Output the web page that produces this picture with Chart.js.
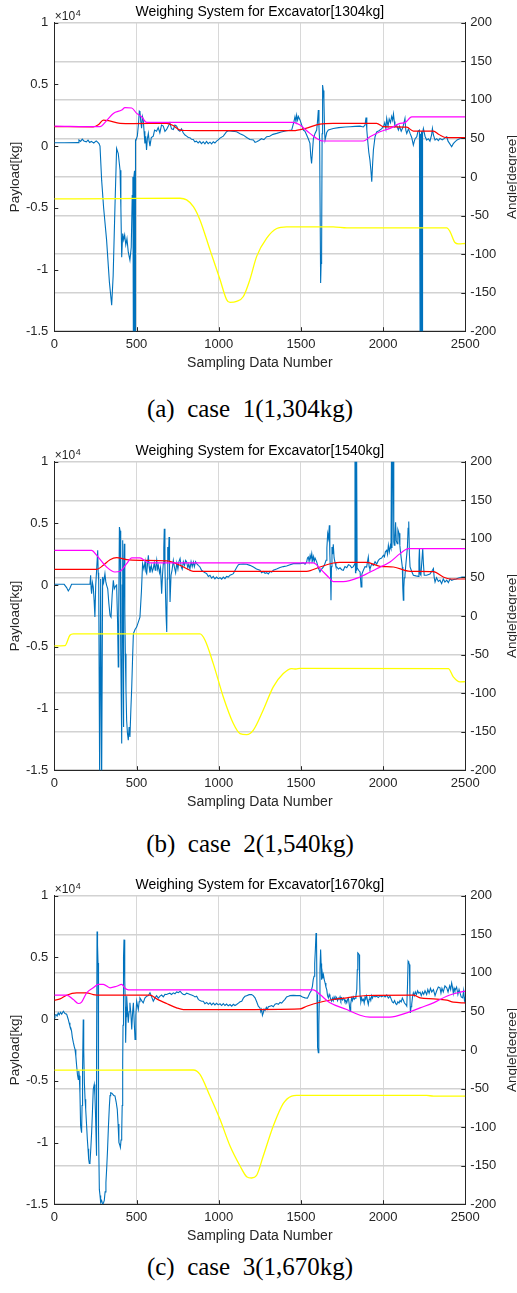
<!DOCTYPE html>
<html><head><meta charset="utf-8">
<script src="https://cdn.jsdelivr.net/npm/chart.js@4"></script>
<style>
html,body{margin:0;padding:0;background:#fff;}
body{width:517px;height:1293px;position:relative;overflow:hidden;}
canvas{position:absolute;left:0;}
.cap{position:absolute;left:0;width:500px;text-align:center;font-family:"Liberation Serif","Times New Roman",serif;font-size:25px;white-space:pre;color:#000;line-height:25px;}
</style></head><body>
<canvas id="c0" width="517" height="380" style="top:0px"></canvas>
<div class="cap" id="cap0" style="top:396px"></div>
<canvas id="c1" width="517" height="380" style="top:438.6px"></canvas>
<div class="cap" id="cap1" style="top:831px"></div>
<canvas id="c2" width="517" height="380" style="top:873.3px"></canvas>
<div class="cap" id="cap2" style="top:1254px"></div>
<script>
const xTicks=[0,500,1000,1500,2000,2500];
const payloadTicks=[-15000,-10000,-5000,0,5000,10000];
const angleTicks=[-200,-150,-100,-50,0,50,100,150,200];
const titles=["Weighing System for Excavator[1304kg]","Weighing System for Excavator[1540kg]","Weighing System for Excavator[1670kg]"];
const captions=["(a)  case  1(1,304kg)","(b)  case  2(1,540kg)","(c)  case  3(1,670kg)"];
const xTitle="Sampling Data Number";
const yLeftTitle="Payload[kg]";
const yRightTitle="Angle[degree]";

// ---- case 1 ----
const c1BlueX=[0,60,146,150,160,170,180,195,205,215,225,240,255,265,272,278,288,300,318,335,349,358,369,379,389,400,405,410,416,422,428,435,442,450,460,468,474,478,481,484,488,491,494,497,505,512,517,521,526,531,536,541,546,551,556,561,566,572,577,582,590,602,610,622,632,642,652,663,673,683,693,703,713,724,734,744,754,764,774,784,795,805,815,825,835,845,855,865,875,885,895,906,916,926,936,947,957,967,977,987,997,1008,1028,1048,1058,1080,1109,1130,1150,1170,1190,1211,1221,1231,1245,1260,1275,1292,1310,1330,1353,1380,1413,1444,1458,1464,1470,1474,1480,1485,1495,1505,1515,1525,1535,1545,1555,1560,1565,1570,1576,1586,1596,1601,1606,1610,1614,1620,1623,1626,1629,1632,1636,1640,1644,1647,1657,1667,1697,1730,1770,1799,1830,1860,1880,1890,1896,1901,1906,1913,1920,1926,1931,1936,1941,1951,1961,1975,1990,2002,2010,2017,2022,2030,2037,2045,2052,2058,2063,2068,2072,2082,2093,2100,2110,2120,2133,2138,2144,2154,2164,2174,2184,2190,2195,2205,2212,2221,2225,2228,2231,2234,2237,2240,2245,2255,2265,2275,2285,2295,2300,2306,2316,2326,2336,2346,2360,2375,2387,2395,2405,2417,2427,2437,2450,2468,2485,2500];
const c1BlueY=[270,270,280,500,380,560,420,350,480,300,380,250,420,300,200,0,-2760,-5000,-7600,-11000,-12900,-10500,-4900,-190,-600,-1950,-5000,-9000,-7080,-7600,-7200,-8000,-7500,-8600,-9240,-8200,-4000,-2500,-16000,-2500,-2000,-16000,500,490,800,1800,2840,2780,2000,1450,2400,2160,1200,220,800,-320,600,1030,400,0,700,810,1300,1210,1500,1080,1700,1620,1200,1350,1600,1890,1400,1350,1700,1620,1300,1210,1400,1080,900,810,700,680,550,540,350,400,250,380,200,350,180,380,200,320,180,350,250,400,500,650,810,1160,1240,1200,1160,1000,890,700,540,490,300,350,450,600,520,760,800,950,1030,1150,1240,1300,2000,2380,2000,2500,2100,2400,2100,1700,1300,1200,900,600,220,-800,-1400,-500,600,1030,1300,2000,2920,1500,420,-11100,-9500,-8700,1000,4950,4500,3730,1200,490,1100,1300,1430,1500,1550,1570,1600,1620,1550,1700,2320,1300,490,-500,-1140,-2000,-2890,-1500,-320,760,1160,1250,1400,1570,1900,1400,2240,1600,2200,1900,2400,2100,2600,2000,1570,1700,1300,1600,1200,1500,2240,1300,1030,1400,1030,700,80,400,600,760,1200,1300,-16000,1000,-16000,1200,-16000,1000,1430,800,490,600,400,900,1430,900,490,600,450,620,500,650,760,400,200,-50,200,350,500,620,640,680];
const c1RedX=[0,237,270,298,330,400,481,684,720,765,800,886,1454,1530,1616,1697,1961,2002,2144,2184,2306,2340,2387,2500];
const c1RedY=[65.2,65,68,73.8,73,69.5,69.2,69.5,67,60.8,60.2,60,60,63,68.6,69.5,69.5,65.2,64.5,59.5,59.5,55,50.9,50.9];
const c1MagX=[0,278,318,359,410,430,471,501,531,562,1454,1495,1555,1636,1880,1920,1981,2042,2103,2133,2174,2500];
const c1MagY=[66,65.2,73,82.4,86.7,89.8,89.4,82.4,78,70.8,70.8,67.4,56.5,46.6,46.6,52,58.7,63,69.5,70.4,78,78];
const c1YelX=[0,400,765,805,846,886,947,1008,1048,1069,1109,1150,1190,1231,1292,1353,1413,1697,1780,2387,2407,2437,2457,2500];
const c1YelY=[-28.5,-28,-27.6,-29.7,-38.4,-55.7,-94.5,-133,-159,-162.7,-161.4,-155,-133,-103,-79.4,-66.9,-64.7,-64.7,-66,-66,-70.8,-85,-86.7,-86.3];

// ---- case 2 ----
const c2BlueX=[0,60,75,85,95,105,150,217,221,224,227,232,237,242,247,252,258,264,267,270,276,282,288,294,300,308,313,318,325,332,339,345,352,359,365,372,379,385,389,392,396,400,404,410,413,416,418,420,423,426,429,432,436,440,445,450,455,460,466,471,476,481,491,501,511,521,530,537,545,552,557,562,567,572,577,582,590,596,602,608,614,618,623,628,633,640,646,653,658,663,666,669,673,677,680,684,687,690,694,698,701,704,710,716,724,730,738,745,752,758,765,772,778,785,792,799,805,812,818,825,832,839,846,852,859,866,876,886,896,906,917,927,937,947,957,967,977,987,997,1008,1018,1028,1038,1048,1058,1069,1079,1089,1100,1110,1120,1130,1150,1170,1190,1211,1230,1251,1261,1272,1282,1292,1302,1312,1322,1332,1352,1373,1393,1413,1434,1454,1475,1495,1515,1525,1535,1540,1545,1550,1556,1561,1566,1571,1576,1581,1586,1596,1606,1616,1626,1637,1645,1653,1658,1663,1668,1673,1676,1680,1683,1686,1689,1693,1697,1702,1708,1713,1718,1728,1738,1748,1758,1768,1779,1789,1799,1809,1819,1827,1829,1832,1834,1837,1839,1842,1851,1860,1866,1871,1880,1890,1900,1905,1910,1915,1920,1930,1941,1951,1961,1971,1981,1991,2002,2008,2014,2022,2027,2032,2038,2044,2048,2051,2054,2058,2062,2065,2068,2072,2076,2080,2086,2090,2097,2102,2107,2112,2117,2120,2123,2126,2129,2133,2137,2142,2148,2152,2156,2160,2164,2174,2184,2200,2215,2218,2221,2225,2230,2235,2241,2245,2250,2265,2285,2300,2306,2311,2316,2325,2336,2346,2356,2366,2376,2387,2397,2407,2417,2430,2445,2458,2480,2500];
const c2BlueY=[65,65,-200,-475,-250,65,65,65,800,-300,-690,200,-150,-1200,-2590,0,1340,2820,1000,390,-16000,500,-16000,660,200,930,300,0,-300,-1500,-2450,-2590,-800,390,-300,-100,0,-3000,-6630,-2000,4710,4400,-5000,-12840,0,3630,-3000,-11490,0,3360,-2000,-5570,-8500,-10950,-12000,-12570,-11500,-12300,-10000,-8270,-6000,-3940,-3600,-3400,-3000,-2590,-500,1740,1300,1900,1100,930,1700,2420,1500,1000,1600,1100,1340,1800,1200,1500,2010,1300,1600,1000,1400,-690,800,1740,3000,4570,1500,-960,-2500,-3800,500,3090,2000,3900,1000,-1360,800,1200,2010,1500,1000,1800,1300,1900,2160,1500,1300,1900,1600,2000,1880,1400,1700,1300,1900,1500,1880,1500,1900,1740,1600,1470,1200,1100,1000,930,700,800,560,700,500,650,520,600,480,650,520,700,650,800,850,930,1200,1450,1650,1690,1700,1690,1600,1470,1300,1200,1000,1100,950,1010,900,1100,1050,1200,1300,1420,1500,1550,1650,1740,1750,1740,1800,1700,1880,2200,2280,1900,2400,2100,2550,2000,2300,1900,2200,1880,1400,1070,1300,1470,1700,2010,3000,4170,3800,4840,2500,1000,-1230,1500,3090,2500,3300,2200,1800,1500,1470,1300,1400,1250,1200,1500,1400,1650,1600,1400,1500,1700,11000,1000,11000,1200,11000,1400,1200,1070,-150,900,1200,1500,1470,1900,2280,1500,1300,1700,1600,1900,1700,2000,2140,2200,2420,2300,2700,2820,2500,3230,2700,3200,3000,11000,3000,11000,11000,3500,3230,4000,5090,3600,3360,4500,4200,3200,2550,2000,1470,-300,-1230,-200,600,800,1470,2200,3090,4600,5150,2500,1470,1100,800,750,710,2000,2960,900,800,1800,2960,1800,800,800,900,1200,1340,600,250,600,300,400,120,500,250,400,200,500,390,450,500,580,650,660];
const c2RedX=[0,258,298,339,379,440,521,684,765,825,846,1535,1616,1697,1737,1900,1981,2063,2164,2306,2366,2407,2500];
const c2RedY=[60.5,60.5,65.7,73,75.6,73,72.1,71.3,65.7,59.2,57.9,57.9,63.5,68.7,69.5,69.5,64.4,63.5,57.9,57.5,50.5,47.9,47.9];
const c2MagX=[0,227,258,318,369,400,440,471,521,562,582,1576,1616,1677,1697,1758,1860,1961,2042,2103,2154,2500];
const c2MagY=[85,85,78.6,63.5,57,58,67.8,75.2,75.2,70,68.7,68.7,61.3,48.4,44.5,44.5,50.5,61.3,70,80.8,87.3,87.3];
const c2YelX=[0,65,95,116,886,917,967,1028,1089,1130,1170,1211,1271,1332,1393,1444,1470,1495,2397,2427,2468,2500];
const c2YelY=[-38.9,-38.5,-25,-23.3,-23.3,-31.5,-61.8,-105,-139.5,-152.5,-153.8,-148,-122,-92,-74.7,-68.3,-68.8,-68,-68.3,-79,-85.5,-85.2];

// ---- case 3 ----
const c3BlueX=[0,4,10,17,24,30,38,45,55,65,75,85,90,95,100,105,110,116,121,126,131,136,141,146,149,152,156,160,166,169,172,176,179,183,187,191,196,201,205,209,213,217,222,227,232,237,243,247,251,254,256,258,260,263,266,268,270,274,278,282,288,294,299,304,309,314,319,324,329,335,339,343,350,356,362,369,376,383,388,393,398,402,406,410,413,416,418,420,422,424,427,430,432,434,437,440,445,450,455,460,466,471,476,481,486,491,496,501,506,511,516,521,531,541,551,562,572,582,592,602,612,622,633,643,653,663,673,683,693,703,713,724,734,744,754,765,775,785,795,805,815,825,835,845,856,866,876,886,896,906,916,927,937,947,957,967,977,987,997,1008,1018,1028,1038,1048,1058,1069,1079,1089,1099,1109,1120,1130,1140,1150,1160,1170,1185,1200,1210,1221,1231,1241,1251,1256,1261,1266,1271,1276,1282,1290,1296,1302,1312,1322,1332,1343,1353,1363,1373,1383,1393,1403,1413,1424,1434,1454,1475,1495,1510,1525,1540,1555,1563,1570,1575,1580,1584,1588,1592,1594,1596,1598,1600,1603,1606,1609,1612,1616,1620,1623,1626,1630,1633,1637,1642,1647,1652,1657,1662,1667,1672,1677,1682,1687,1692,1697,1702,1708,1713,1718,1723,1728,1733,1738,1743,1748,1753,1758,1763,1768,1774,1779,1784,1789,1794,1799,1803,1808,1813,1818,1824,1830,1835,1840,1843,1846,1850,1854,1857,1860,1865,1870,1875,1880,1885,1890,1895,1900,1905,1910,1915,1920,1925,1930,1935,1941,1951,1961,1971,1981,1991,2002,2012,2022,2032,2042,2050,2056,2063,2070,2077,2083,2090,2097,2103,2110,2117,2124,2130,2137,2144,2148,2152,2156,2160,2163,2166,2170,2174,2179,2184,2190,2196,2203,2210,2217,2225,2232,2240,2247,2255,2265,2272,2280,2288,2296,2306,2316,2326,2336,2346,2352,2358,2366,2376,2387,2395,2405,2411,2417,2422,2427,2432,2437,2447,2455,2462,2468,2475,2484,2490,2495,2500];
const c3BlueY=[100,300,370,250,500,350,550,400,640,450,400,-30,-300,-570,-700,-980,-1500,-1910,-2200,-2460,-3000,-3800,-4500,-4900,-4200,-4600,-6000,-8660,-9200,-7000,-4000,-30,-2500,-5150,-6500,-7310,-8500,-9740,-10500,-11360,-11700,-11630,-10500,-9200,-7500,-5700,-5300,-6200,-7850,-9500,-11080,-3000,7100,6000,4550,-2000,-9000,-13800,-14300,-14860,-14700,-15000,-14900,-14700,-14000,-13250,-12000,-10550,-8800,-7040,-6200,-5970,-6000,-6100,-6200,-6230,-6700,-7310,-8500,-10000,-10200,-10410,-9800,-9200,-7000,-3540,-500,2930,5000,6440,5500,3200,1000,-1910,200,1860,800,-300,600,1320,400,-840,500,1320,-200,-1640,300,1450,1100,780,1400,1720,1500,1320,1700,1860,1900,2130,1800,1450,1700,1900,1700,1860,1950,1800,2000,1990,2050,2100,2000,2130,2050,2200,2150,2260,2100,2000,1980,2100,2050,2000,1950,1900,1800,1860,1600,1500,1450,1450,1250,1350,1200,1320,1150,1300,1150,1280,1150,1240,1100,1250,1100,1220,1080,1180,1050,1200,1100,1180,1300,1400,1450,1700,1850,1900,1980,1990,1900,1720,1400,1050,900,600,780,300,500,800,700,950,800,1000,1050,1100,1000,1200,1260,1200,1350,1300,1450,1600,1800,1850,1900,1920,1900,1900,1800,1720,1700,2130,2300,2660,3200,3470,4500,5630,6980,6900,6440,2000,-1910,-2300,-2720,-500,1500,4000,5630,4500,3200,3700,3300,3600,3200,2930,2600,2400,1900,1720,2000,1800,1600,1450,1700,1500,1800,1600,1800,1720,1500,1700,1600,1800,1500,1700,1550,1700,1600,1400,1500,1320,1600,1700,1200,640,1200,1700,1500,1800,1600,1700,1900,2400,4000,5360,5300,5220,3500,1860,1400,1700,1500,1600,1300,1800,1700,1900,1500,1180,1600,1700,1500,1900,1700,1900,1800,1850,1750,1900,1800,1900,1800,1950,1700,1860,1600,1400,1320,1500,1250,1180,1400,1300,1500,1400,1700,1500,1300,1200,1050,2500,4690,4600,4420,2000,500,1000,1200,1800,2130,1900,2200,2000,2300,2100,2180,1900,2200,2000,2300,1990,2400,2100,2500,2200,2400,1900,2300,2600,2530,2100,2500,2200,2700,2530,2200,2700,2400,2930,2600,2100,2500,2300,2600,2000,2400,2130,1800,1720,2300,1500,1800];
const c3RedX=[0,35,75,136,197,237,278,582,623,683,744,785,1089,1495,1535,1616,1697,1779,1900,2184,2225,2306,2387,2427,2500];
const c3RedY=[64.5,66.2,71,74,74,71.8,71,71,66.2,60.2,54.6,52.4,52.4,53.3,56.7,61.9,65.4,67.5,70.6,71,67.5,66.2,64.5,61.9,61];
const c3MagX=[0,75,116,146,166,197,237,268,298,339,379,410,430,450,1576,1616,1677,1779,1860,1920,2042,2144,2225,2306,2387,2468,2500];
const c3MagY=[71,71,65.4,60.2,62,74,80.6,85,85,80.6,82.6,85,80,78,78,71.8,61.1,52.4,45,42.5,42.5,48.1,54.6,61.1,69.7,74.9,76.3];
const c3YelX=[0,846,886,947,1008,1069,1130,1170,1200,1231,1271,1332,1393,1444,1474,2265,2306,2500];
const c3YelY=[-26.1,-26,-31.7,-59.8,-90,-124.6,-150.5,-164.3,-166,-162.5,-137.5,-98.6,-69.3,-59.8,-59,-59,-59.8,-59.8];

const panels=[
 {blue:[c1BlueX,c1BlueY],red:[c1RedX,c1RedY],mag:[c1MagX,c1MagY],yel:[c1YelX,c1YelY]},
 {blue:[c2BlueX,c2BlueY],red:[c2RedX,c2RedY],mag:[c2MagX,c2MagY],yel:[c2YelX,c2YelY]},
 {blue:[c3BlueX,c3BlueY],red:[c3RedX,c3RedY],mag:[c3MagX,c3MagY],yel:[c3YelX,c3YelY]}
];

const AXC='#262626';
const FONT='"Liberation Sans", Arial, Helvetica, sans-serif';
const pts=(xs,ys)=>xs.map((x,i)=>({x:x,y:ys[i]}));

const deco={
 id:'deco',
 afterDraw(chart,args,opts){
  const ctx=chart.ctx,a=chart.chartArea,s=chart.scales;
  ctx.save();
  ctx.strokeStyle=AXC;ctx.lineWidth=1;
  ctx.beginPath();
  payloadTicks.forEach(v=>{const y=Math.round(s.yL.getPixelForValue(v))+0.5;ctx.moveTo(a.left,y);ctx.lineTo(a.left+4,y);});
  angleTicks.forEach(v=>{const y=Math.round(s.yR.getPixelForValue(v))+0.5;ctx.moveTo(a.right-4,y);ctx.lineTo(a.right,y);});
  xTicks.forEach(v=>{const x=Math.round(s.x.getPixelForValue(v))+0.5;ctx.moveTo(x,a.bottom);ctx.lineTo(x,a.bottom-4);});
  ctx.stroke();
  const cx=(a.left+a.right)/2, cy=(a.top+a.bottom)/2;
  ctx.fillStyle='#000';ctx.font='14px '+FONT;ctx.textAlign='center';ctx.textBaseline='middle';
  ctx.fillText(opts.title,cx,a.top-10.3);
  ctx.fillStyle=AXC;
  ctx.fillText(xTitle,cx,a.bottom+31.7);
  ctx.font='13.5px '+FONT;ctx.textBaseline='alphabetic';
  ctx.save();ctx.translate(19,cy);ctx.rotate(-Math.PI/2);ctx.fillText(yLeftTitle,0,0);ctx.restore();
  ctx.save();ctx.translate(515.5,cy);ctx.rotate(-Math.PI/2);ctx.fillText(yRightTitle,0,0);ctx.restore();
  ctx.textAlign='left';
  ctx.font='12px '+FONT;
  const ex='\u00d710';
  ctx.fillText(ex,a.left+0.5,a.top-3.2);
  const w=ctx.measureText(ex).width;
  ctx.font='9px '+FONT;
  ctx.fillText('4',a.left+0.5+w+0.5,a.top-7);
  ctx.restore();
 }
};

panels.forEach((p,i)=>{
 document.getElementById('cap'+i).textContent=captions[i];
 const line=(d,c,ax,ord,w)=>({data:pts(d[0],d[1]),borderColor:c,borderWidth:w,pointRadius:0,yAxisID:ax,order:ord,fill:false,tension:0});
 const yel=line(p.yel,'#FFFF00','yR',1,1.3); yel.cubicInterpolationMode='monotone';
 const mag=line(p.mag,'#FF00FF','yR',2,1.2); mag.cubicInterpolationMode='monotone';
 const red=line(p.red,'#FF0000','yR',3,1.2); red.cubicInterpolationMode='monotone';
 const blue=line(p.blue,'#0072BD','yL',4,1.1);
 new Chart(document.getElementById('c'+i),{
  type:'line',
  data:{datasets:[yel,mag,red,blue]},
  plugins:[deco],
  options:{
   responsive:false,animation:false,devicePixelRatio:1,
   layout:{padding:{top:22.7,left:0,right:0,bottom:0}},
   plugins:{legend:{display:false},tooltip:{enabled:false},title:{display:false},deco:{title:titles[i]}},
   scales:{
    x:{type:'linear',position:'bottom',min:0,max:2500,
       afterBuildTicks:sc=>{sc.ticks=xTicks.map(v=>({value:v}));},
       afterFit:sc=>{sc.height=380-22.7-308.5;},
       grid:{color:'#d8d8d8',lineWidth:1,drawTicks:false},
       border:{display:true,color:AXC,width:1},
       ticks:{color:AXC,font:{family:FONT,size:13},padding:5,maxRotation:0,autoSkip:false,callback:v=>String(v)}},
    yL:{type:'linear',position:'left',min:-15000,max:10000,
       afterBuildTicks:sc=>{sc.ticks=payloadTicks.map(v=>({value:v}));},
       afterFit:sc=>{sc.width=54.3;},
       grid:{display:false,drawTicks:false},
       border:{display:true,color:AXC,width:1},
       ticks:{color:AXC,font:{family:FONT,size:13},padding:6,autoSkip:false,callback:v=>String(v/10000)}},
    yR:{type:'linear',position:'right',min:-200,max:200,
       afterBuildTicks:sc=>{sc.ticks=angleTicks.map(v=>({value:v}));},
       afterFit:sc=>{sc.width=517-465.3;},
       grid:{color:'#d2d2d2',lineWidth:1.5,drawTicks:false,drawOnChartArea:true},
       border:{display:true,color:AXC,width:1},
       ticks:{color:AXC,font:{family:FONT,size:13},padding:5,autoSkip:false,callback:v=>String(v)}}
   }
  }
 });
});
</script>
</body></html>
